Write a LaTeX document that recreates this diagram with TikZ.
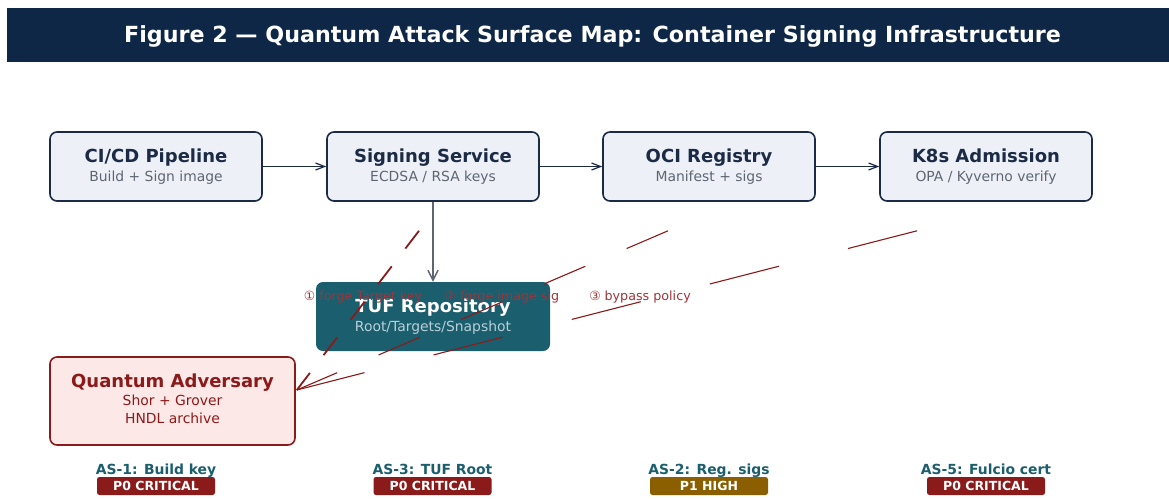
\documentclass[tikz,border=0pt]{standalone}
\usepackage{fontspec}
\setmainfont{DejaVu Sans}
\usetikzlibrary{arrows.meta}
\definecolor{titlebg}{HTML}{0E2746}
\definecolor{navyline}{HTML}{1B2A45}
\definecolor{boxfill}{HTML}{EDF1F7}
\definecolor{subgray}{HTML}{5E6672}
\definecolor{tufteal}{HTML}{1B5E6E}
\definecolor{tufsub}{HTML}{B8D0D8}
\definecolor{advfill}{HTML}{FDE8E8}
\definecolor{advred}{HTML}{8B1A1A}
\definecolor{atklabel}{HTML}{A03438}
\definecolor{highbrown}{HTML}{8B5E00}
\newcommand\boxtext[2]{{\bfseries\fontsize{18}{19.5}\selectfont #1}\\{\color{subgray}\fontsize{13.9}{19.5}\selectfont #2}}
\begin{document}
\begin{tikzpicture}[x=1pt,y=-1pt,
  stagebox/.style={draw=navyline, fill=boxfill, line width=1.6pt, rounded corners=7pt,
    minimum width=212pt, minimum height=69pt, inner sep=0pt, align=center, text=navyline,
    font=\fontsize{13.9}{19.5}\selectfont},
  flow/.style={draw=navyline, line width=1.6pt, -{Straight Barb[length=9pt,width=7pt,line width=1.2pt]}},
  atk/.style={draw=advred, line cap=butt},
  atktext/.style={text=atklabel, font=\fontsize{12.7}{14}\selectfont, inner sep=0pt},
  aslabel/.style={text=tufteal, font=\bfseries\fontsize{13.9}{15}\selectfont, inner sep=0pt, anchor=base},
  badge/.style={fill=#1, text=white, rounded corners=2.5pt, minimum width=118pt, minimum height=18pt,
    inner sep=0pt, text height=9pt, text depth=0pt, font=\bfseries\fontsize{12.5}{14}\selectfont}
]
\useasboundingbox[fill=white] (0,0) rectangle (1169,498);

% title bar
\node[fill=titlebg, minimum width=1162pt, minimum height=54pt, inner sep=0pt, anchor=north west] (titlebar) at (7,8) {};
\node[text=white, font=\bfseries\fontsize{22.2}{25}\selectfont, inner sep=0pt] (title) at (592.5,36) {Figure 2 — Quantum Attack Surface Map: Container Signing Infrastructure};

% pipeline stages
\node[stagebox] (cicd) at (156,166.5) {\boxtext{CI/CD Pipeline}{Build + Sign image}};
\node[stagebox] (sign) at (433,166.5) {\boxtext{Signing Service}{ECDSA / RSA keys}};
\node[stagebox] (oci)  at (709,166.5) {\boxtext{OCI Registry}{Manifest + sigs}};
\node[stagebox] (k8s)  at (986,166.5) {\boxtext{K8s Admission}{OPA / Kyverno verify}};

\draw[flow] (cicd) -- (sign);
\draw[flow] (sign) -- (oci);
\draw[flow] (oci) -- (k8s);

% TUF repository
\node[fill=tufteal, rounded corners=7pt, minimum width=234pt, minimum height=69pt, inner sep=0pt,
  align=center, text=white, font=\fontsize{13.9}{18.5}\selectfont] (tuf) at (433,316.5)
  {{\bfseries\fontsize{18}{18.5}\selectfont TUF Repository}\\{\color{tufsub}Root/Targets/Snapshot}};
\draw[draw=subgray, line width=1.5pt, -{Straight Barb[length=10pt,width=10pt,line width=1.4pt]}] (sign) -- (tuf);

% quantum adversary
\node[draw=advred, fill=advfill, line width=1.6pt, rounded corners=7pt, minimum width=245pt, minimum height=88pt,
  inner sep=0pt, align=center, text=advred, font=\fontsize{13.9}{18}\selectfont] (adv) at (172.5,401)
  {{\bfseries\fontsize{18}{18}\selectfont Quantum Adversary}\\[-0.5pt]Shor + Grover\\HNDL archive\rule[-5pt]{0pt}{5pt}};

% attack labels
\node[atktext] (l1) at (363,297) {① forge Target key};
\node[atktext] (l2) at (502,297) {② forge image sig};
\node[atktext] (l3) at (640,297) {③ bypass policy};

% attack paths
\coordinate (d1) at ([shift={(-14,29)}]sign.south);
\coordinate (d2) at ([shift={(-41,29)}]oci.south);
\coordinate (d3) at ([shift={(-69,29)}]k8s.south);
\coordinate (hit) at ([shift={(1,-11)}]adv.east);
\draw[atk, line width=1.8pt, dash pattern=on 22.4pt off 22.4pt] (d1) -- (hit);
\draw[atk, line width=1.1pt, dash pattern=on 45pt off 45pt] (d2) -- (hit);
\draw[atk, line width=1.1pt, dash pattern=on 71.3pt off 71.3pt] (d3) -- (hit);

% attack surface tags
\node[aslabel] (as1) at (156,474) {AS-1: Build key};
\node[aslabel] (as3) at (432.5,474) {AS-3: TUF Root};
\node[aslabel] (as2) at (709,474) {AS-2: Reg. sigs};
\node[aslabel] (as5) at (986,474) {AS-5: Fulcio cert};
\node[badge=advred] (b1) at (156,486) {P0 CRITICAL};
\node[badge=advred] (b3) at (432.5,486) {P0 CRITICAL};
\node[badge=highbrown] (b2) at (709,486) {P1 HIGH};
\node[badge=advred] (b5) at (986,486) {P0 CRITICAL};
\end{tikzpicture}
\end{document}
